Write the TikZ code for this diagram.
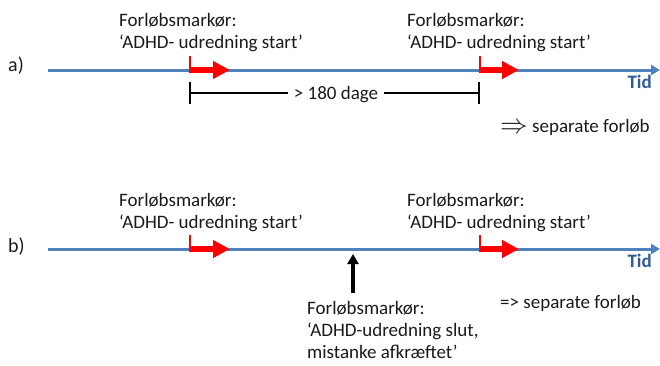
\documentclass[tikz,border=0pt]{standalone}
\usepackage{fontspec}
\setmainfont{Carlito}
\usetikzlibrary{arrows.meta}
\definecolor{tlblue}{HTML}{4F81BD}
\definecolor{tidblue}{HTML}{2F5C96}
\definecolor{txtgray}{HTML}{1A1A1A}
\begin{document}
\begin{tikzpicture}[x=1pt,y=-1pt,
  txt/.style={anchor=base west,inner sep=0pt,font=\fontsize{19}{22}\selectfont,align=left,text=txtgray},
  timeline/.style={draw=tlblue,line width=3pt,-{Triangle[length=9pt,width=10pt]}},
  redtick/.style={draw=red,line width=2pt},
  redarrow/.style={draw=red,line width=6pt,-{Triangle[length=17pt,width=17pt]}},
  brk/.style={draw=black,line width=1.2pt},
  tid/.style={anchor=base east,inner sep=0pt,font=\fontsize{19}{20}\selectfont\bfseries,text=tidblue},
  blackarrow/.style={draw=black,line width=4pt,-{Triangle[length=10pt,width=11pt]}}]
\useasboundingbox (0,0) rectangle (660,365);
% ---- panel a
\node[txt,font=\fontsize{20}{22}\selectfont] (la) at (8,71) {a)};
\coordinate (a0) at (48,70);
\coordinate (a1) at (660,70);
\draw[timeline] (a0) -- (a1);
\node[tid] (tida) at (652,88) {Tid};
\node[txt] (ta1) at (119,48) {Forløbsmarkør:\\‘ADHD- udredning start’};
\node[txt] (ta2) at (407,48) {Forløbsmarkør:\\‘ADHD- udredning start’};
\coordinate (ma1) at (190,70);
\coordinate (ma1t) at (190,56);
\coordinate (ma1e) at (230,70);
\coordinate (ma2) at (480,70);
\coordinate (ma2t) at (480,56);
\coordinate (ma2e) at (519,70);
\draw[redtick] (ma1t) -- (ma1);
\draw[redarrow] ([xshift=-1pt]ma1) -- (ma1e);
\draw[redtick] (ma2t) -- (ma2);
\draw[redarrow] ([xshift=-1pt]ma2) -- (ma2e);
% bracket
\node[inner sep=0pt,anchor=base,font=\fontsize{19}{22}\selectfont,text=txtgray] (dage) at (336,99) {> 180 dage};
\coordinate (b1) at (190,93);
\coordinate (b1t) at (190,82);
\coordinate (b1b) at (190,104);
\coordinate (b2) at (479,93);
\coordinate (b2t) at (479,82);
\coordinate (b2b) at (479,104);
\draw[brk] (b1t) -- (b1b);
\draw[brk] (b2t) -- (b2b);
\draw[brk] (b1) -- ([xshift=-6pt]dage.west |- b1);
\draw[brk] ([xshift=6pt]dage.east |- b2) -- (b2);
\node[txt] (sepa) at (500,132) {\raisebox{-1pt}{\scalebox{1.6}{$\Rightarrow$}} separate forløb};
% ---- panel b
\node[txt,font=\fontsize{20}{22}\selectfont] (lb) at (8,252) {b)};
\coordinate (b0) at (48,249);
\coordinate (bend) at (660,249);
\draw[timeline] (b0) -- (bend);
\node[tid] (tidb) at (652,267) {Tid};
\node[txt] (tb1) at (119,228) {Forløbsmarkør:\\‘ADHD- udredning start’};
\node[txt] (tb2) at (407,228) {Forløbsmarkør:\\‘ADHD- udredning start’};
\coordinate (mb1) at (190,249);
\coordinate (mb1t) at (190,235);
\coordinate (mb1e) at (230,249);
\coordinate (mb2) at (480,249);
\coordinate (mb2t) at (480,235);
\coordinate (mb2e) at (519,249);
\draw[redtick] (mb1t) -- (mb1);
\draw[redarrow] ([xshift=-1pt]mb1) -- (mb1e);
\draw[redtick] (mb2t) -- (mb2);
\draw[redarrow] ([xshift=-1pt]mb2) -- (mb2e);
\node[txt] (tb3) at (307,358) {Forløbsmarkør:\\‘ADHD-udredning slut,\\mistanke afkræftet’};
\coordinate (up0) at (353,293);
\coordinate (up1) at (353,254);
\draw[blackarrow] (up0) -- (up1);
\node[txt] (sepb) at (500,308) {=> separate forløb};
\end{tikzpicture}
\end{document}
